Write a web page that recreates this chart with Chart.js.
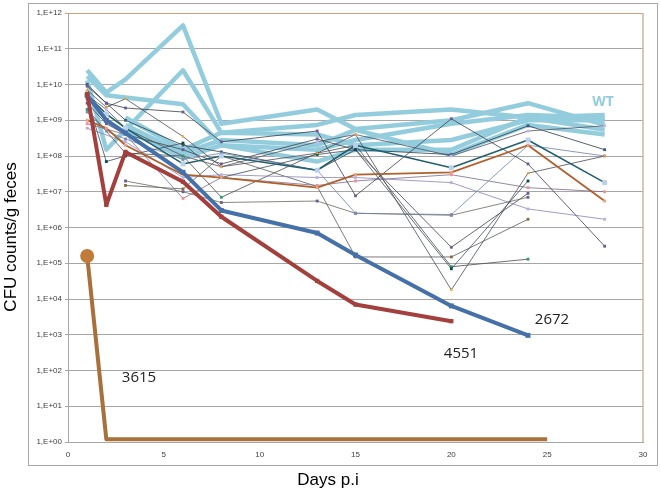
<!DOCTYPE html>
<html>
<head>
<meta charset="utf-8">
<script src="https://cdn.jsdelivr.net/npm/chart.js@4.4.1/dist/chart.umd.min.js"></script>
<style>
  html, body { margin: 0; padding: 0; background: #fff; }
</style>
</head>
<body>
<canvas id="myChart" width="661" height="492"></canvas>
<script>
// CFU counts per gram of feces
// sampling days p.i used by most of the mice
const days = [1, 2, 3, 6, 8, 13, 15, 20, 24, 28];

// wild type mice (thick light blue)
const wt1 = [2.5e10, 6e9, 1.4e10, 4.5e11, 8e8, 2e9, 5.7e8, 1e9, 3e9, 7.4e8];
const wt2 = [1.3e10, 1.5e8, null, 2.5e10, 4.5e8, 7.4e8, 1.4e9, 2e9, 1.2e9, 1.4e9];
const wt3 = [1.7e10, 5e9, null, 2.8e9, 2e8, 1.5e8, 2.8e8, 8e8, 1.4e9, 1.2e9];
const wt4 = [null, null, 1.2e9, 1.5e8, 4.5e8, 4e8, 2e8, 2.8e8, 1e9, 1e9];
const wt5 = [null, null, 7.4e8, 1.2e8, 2.8e8, 2e8, 5.4e8, 1.1e8, 7.4e8, 4e8];
const wt6 = [null, null, 5.4e8, 9e7, 2e8, 7e7, 1.5e8, 1.5e8, 1.2e9, 5.4e8];

// other mutants (thin lines)
const m1 = [9e9, 3e9, 2.2e9, 1.7e9, 2.5e8, 5e8, 7.7e6, 1.1e9, 6e7, 3e5];
const m2 = [7e9, 2.3e9, 4e9, 3.5e8, 5e7, 1.2e8, 4e8, 1.8e4, 3.3e7, 1e8];
const m3 = [4e9, 7e7, 1e8, 2.3e8, 2.5e7, 1.1e8, 1.5e8, 7e4, 2e7, null];
const m4 = [1.7e9, 5e8, 3e8, 8e7, 1.2e8, 4e7, 2.5e6, 2.3e6, 2e8, 1e8];
const m5 = [1e9, 6e8, 2e8, 3e7, 2.5e7, 1.3e7, 3e7, 3.5e7, 2e8, 5.5e6];
const m6 = [5e9, 1.5e9, 6e8, 6e7, 1e8, 4e7, 2e8, 4.7e7, 2.8e8, 1.8e7];
const m7 = [6e8, null, 2.5e8, 2.5e7, 3e7, 2.5e7, 2.5e7, 1.8e7, 3.3e6, 1.7e6];
const m8 = [8e8, null, 4e8, 6.5e6, 2.5e7, 1.5e7, 2e7, 3e7, 1.3e7, 1e7];
const m9 = [null, null, 2e7, 1e7, 5e6, 5.5e6, 2.5e6, 2.2e6, 7e6, null];
const m10 = [null, null, 1.5e7, 1.2e7, 1e8, 1.4e7, 1.5e5, 1.5e5, 1.7e6, null];
const m11 = [3e9, 8e8, 4e8, 1.5e8, 6e7, 3e8, 1.5e8, 2.8e5, 9e6, null];
const m12 = [2e9, null, 1.2e8, 1e8, 7e6, 1.2e8, 2e8, 8e4, 1.3e5, null];
const m13 = [5e9, 2e9, 6e8, 1e8, 5e7, 2.5e8, 4e8, 1e8, 5e8, 7e8];
const m14 = [1e10, 3e9, 1e9, 2e8, 1.3e8, 4e7, 1.5e8, 1.1e8, 7e8, 1.5e8];

// highlighted strains
const days2672 = [1, 2, 3, 6, 8, 13, 15, 20, 24];
const cfu2672 = [5e9, 1e9, 4.4e8, 3.5e7, 3e6, 7e5, 1.7e5, 6.4e3, 960];
const days4551 = [1, 2, 3, 6, 8, 13, 15, 20];
const cfu4551 = [5.5e9, 4.3e6, 1.3e8, 1.9e7, 2e6, 3.2e4, 7e3, 2.4e3];
const days3615 = [1, 2, 25];
const cfu3615 = [1.6e5, 1.2, 1.2];

const yTicks = [1, 1e1, 1e2, 1e3, 1e4, 1e5, 1e6, 1e7, 1e8, 1e9, 1e10, 1e11, 1e12];

function pairs(xs, ys) {
    const out = [];
    xs.forEach((x, i) => { if (ys[i] !== null) out.push({ x: x, y: ys[i] }); });
    return out;
}

const thin = [
    [m1, '#3c3c4c', '#6a5a9a', 'rect'],
    [m2, '#4a4a58', '#f0a030', 'triangle'],
    [m3, '#3a4a5a', '#0a4a4a', 'rect'],
    [m4, '#6a82a8', '#7a8ab0', 'rect'],
    [m7, '#8c82b8', '#b8b0e0', 'rect'],
    [m8, '#7a6a8a', '#f09090', 'rect'],
    [m9, '#6a6a5a', '#6a5a9a', 'rect'],
    [m10, '#5a5a5a', '#8a6a3a', 'rect'],
    [m11, '#404050', '#6a5a9a', 'rect'],
    [m12, '#4a4a4a', '#2a9a70', 'rect'],
    [m13, '#505060', '#c0b8f0', 'rect'],
    [m14, '#2a3a4a', '#3a5a7a', 'rect']
];

const datasets = [];
datasets.push({ data: pairs(days3615, cfu3615), borderColor: '#a8703a', backgroundColor: '#c07a3a',
    borderWidth: 4, pointRadius: [7, 0, 0], pointStyle: 'circle', pointBorderWidth: 0 });
datasets.push({ data: pairs(days4551, cfu4551), borderColor: '#a3403d', backgroundColor: '#a3403d',
    borderWidth: 4, pointRadius: 3, pointStyle: 'rect', pointBorderWidth: 0 });
datasets.push({ data: pairs(days2672, cfu2672), borderColor: '#4570a8', backgroundColor: '#4570a8',
    borderWidth: 4, pointRadius: 3.5, pointStyle: 'rect', pointBorderWidth: 0 });
datasets.push({ data: pairs(days, m5), borderColor: '#b0602a', backgroundColor: '#f0a080',
    borderWidth: 1.8, pointRadius: 2, pointStyle: 'rect', pointBorderWidth: 0 });
datasets.push({ data: pairs(days, m6), borderColor: '#23606e', backgroundColor: '#b8d0ec',
    borderWidth: 1.6, pointRadius: 3.5, pointStyle: 'rect', pointBorderWidth: 0 });
thin.forEach(t => {
    datasets.push({ data: pairs(days, t[0]), borderColor: t[1], backgroundColor: t[2],
        borderWidth: 0.8, pointRadius: 2, pointStyle: t[3], pointBorderWidth: 0 });
});
[wt1, wt2, wt3, wt4, wt5, wt6].forEach(w => {
    datasets.push({ data: pairs(days, w), borderColor: '#93cddd', backgroundColor: '#93cddd',
        borderWidth: 4.5, pointRadius: 0 });
});

const framePlugin = {
    id: 'frame',
    beforeDraw(chart) {
        const c = chart.ctx;
        c.save();
        c.fillStyle = '#fff';
        c.fillRect(0, 0, chart.width, chart.height);
        c.strokeStyle = '#a6a6a6';
        c.lineWidth = 1;
        c.strokeRect(28.5, 3.5, 629, 462);
        c.restore();
    },
    afterDraw(chart) {
        const c = chart.ctx;
        const a = chart.chartArea;
        c.save();
        c.strokeStyle = '#c8b89c';
        c.lineWidth = 1.5;
        c.beginPath();
        c.moveTo(a.right, a.top);
        c.lineTo(a.right, a.bottom);
        c.stroke();

        c.fillStyle = '#000';
        c.font = '17px "Liberation Sans", Arial, sans-serif';
        c.textAlign = 'center';
        c.textBaseline = 'middle';
        c.fillText('Days p.i', 328, 480);
        c.translate(11, 237);
        c.rotate(-Math.PI / 2);
        c.fillText('CFU counts/g feces', 0, 0);
        c.restore();

        c.save();
        c.textAlign = 'center';
        c.textBaseline = 'middle';
        c.font = 'bold 14px "Open Sans", sans-serif';
        c.fillStyle = '#93cddd';
        c.fillText('WT', 603, 102);
        c.font = '15px "Open Sans", sans-serif';
        c.fillStyle = '#222';
        c.fillText('2672', 552, 320);
        c.fillText('4551', 461, 354);
        c.fillText('3615', 139, 378);
        c.restore();
    }
};

new Chart(document.getElementById('myChart'), {
    type: 'line',
    data: { datasets: datasets },
    options: {
        responsive: false,
        animation: false,
        spanGaps: true,
        layout: { padding: { left: 0, right: 18, top: 13, bottom: 0 } },
        elements: { line: { tension: 0, borderJoinStyle: 'round' } },
        plugins: { legend: { display: false }, tooltip: { enabled: false } },
        scales: {
            x: {
                type: 'linear',
                min: 0,
                max: 30,
                ticks: { stepSize: 5, padding: 0, color: '#404040',
                    font: { size: 8, family: 'Arial, sans-serif' } },
                grid: { display: false },
                border: { display: true, color: '#a6a6a6' },
                afterFit(scale) { scale.height = 50; }
            },
            y: {
                type: 'logarithmic',
                min: 1,
                max: 1e12,
                afterBuildTicks(scale) { scale.ticks = yTicks.map(v => ({ value: v })); },
                ticks: {
                    padding: 3,
                    color: '#404040',
                    font: { size: 8, family: 'Arial, sans-serif' },
                    callback: function (val) {
                        const e = Math.round(Math.log10(val));
                        return '1,E+' + (e < 10 ? '0' + e : e);
                    }
                },
                grid: {
                    color: ctx => (ctx.tick && ctx.tick.value === 1e12) ? '#c9a27a' : '#a6a6a6',
                    tickLength: 3
                },
                border: { display: true, color: '#a6a6a6' },
                afterFit(scale) { scale.width = 68; }
            }
        }
    },
    plugins: [framePlugin]
});
</script>
</body>
</html>
